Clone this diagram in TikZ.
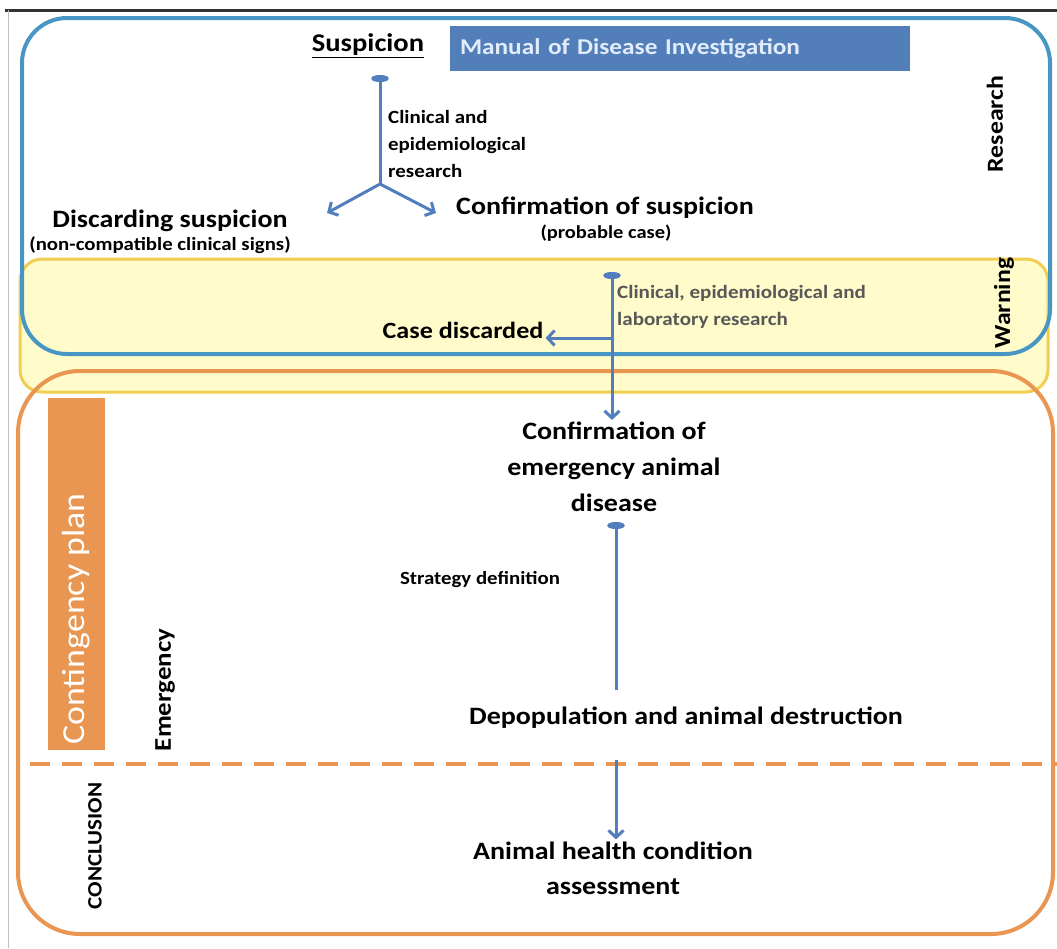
\documentclass[tikz,border=0pt]{standalone}
\usepackage{fontspec}
\setmainfont{Carlito}[FakeStretch=1.12]
\usetikzlibrary{positioning,arrows.meta}

\definecolor{researchblue}{RGB}{72,150,196}
\definecolor{warnfill}{RGB}{255,251,202}
\definecolor{warnline}{RGB}{240,206,80}
\definecolor{planorange}{RGB}{232,150,82}
\definecolor{arrowblue}{RGB}{82,126,190}
\definecolor{manualblue}{RGB}{82,126,186}
\definecolor{manualtext}{RGB}{226,236,250}
\definecolor{notegray}{RGB}{88,88,88}

\tikzset{
  stage/.style={font=\fontsize{25}{36}\selectfont\bfseries, align=center, inner sep=2pt},
  note/.style={font=\fontsize{18.7}{27}\selectfont\bfseries, align=left, inner sep=0pt},
  side/.style={font=\fontsize{23}{26}\selectfont\bfseries, rotate=90, inner sep=0pt},
  flow/.style={draw=arrowblue, line width=3pt, -{Straight Barb[length=7pt,width=15pt]}},
  dotflow/.style={draw=arrowblue, line width=3pt, {Ellipse[length=7pt,width=17pt]}-{Straight Barb[length=7pt,width=15pt]}},
  dotline/.style={draw=arrowblue, line width=3pt, {Ellipse[length=7pt,width=17pt]}-}
}

\begin{document}
\begin{tikzpicture}[x=1pt, y=-1pt]
    \useasboundingbox (0,0) rectangle (1057,948);
    \fill[white] (0,0) rectangle (1057,948);

    % Frame
    \draw[line width=3pt, black!80] (5,10) -- (1057,10);
    \draw[line width=0.8pt, black!25] (8,10) -- (8,948);

    % Phases
    \draw[draw=warnline, fill=warnfill, line width=3pt, rounded corners=22pt] (20,259) rectangle (1048,392);
    \draw[draw=researchblue, line width=4pt, rounded corners=45pt] (22,18) rectangle (1050,354);
    \draw[draw=planorange, line width=4pt, rounded corners=62pt] (18,371) rectangle (1053,934);
    \draw[draw=planorange, line width=4pt, dash pattern=on 20pt off 12pt] (30,764) -- (1057,764);

    % Side labels
    \node[side] (research) at (995,124) {Research};
    \node[side] (warning) at (1004,303) {Warning};
    \node[side, font=\fontsize{24}{27}\selectfont\bfseries] (emergency) at (165,690) {Emergency};
    \node[side, font=\fontsize{20.5}{24}\selectfont\bfseries] (conclusion) at (95,846) {CONCLUSION};
    \node[fill=planorange, minimum width=57pt, minimum height=352pt, inner sep=0pt] (plan) at (76,574) {};
    \node[rotate=90, text=white, inner sep=0pt, font=\fontsize{32}{36}\selectfont] (plantext) at (76,619) {Contingency plan};

    % Research phase
    \node[font=\fontsize{25.5}{30}\selectfont\bfseries] (suspicion) at (368,46) {\underline{Suspicion}};
    \node[fill=manualblue, text=manualtext, text width=440pt, minimum height=45pt, inner sep=10pt,
          font=\fontsize{22.6}{28}\selectfont\bfseries] (manual) at (680,48) {Manual of Disease Investigation};
    \node[note, anchor=north west] (clinical) at (388,110) {Clinical and\\epidemiological\\research};
    \node[stage] (discarding) at (170,221) {Discarding suspicion};
    \node[note, font=\fontsize{18.6}{22}\selectfont\bfseries] (noncomp) at (160,245) {(non-compatible clinical signs)};
    \node[stage] (confirm) at (605,208) {Confirmation of suspicion};
    \node[note, font=\fontsize{18.3}{22}\selectfont\bfseries] (probable) at (606,233) {(probable case)};

    % Warning phase
    \node[note, font=\fontsize{18.8}{27}\selectfont\bfseries, text=notegray, anchor=west] (lab) at (617,307) {Clinical, epidemiological and\\laboratory research};
    \node[stage, font=\fontsize{23.3}{28}\selectfont\bfseries] (casedisc) at (463,330) {Case discarded};

    % Emergency phase
    \node[stage] (emerg) at (614,467) {Confirmation of\\emergency animal\\disease};
    \node[note, font=\fontsize{18.6}{22}\selectfont\bfseries] (strategy) at (480,580) {Strategy definition};
    \node[stage] (depop) at (686,718) {Depopulation and animal destruction};

    % Conclusion phase
    \node[stage, font=\fontsize{25}{35}\selectfont\bfseries] (assess) at (613,868) {Animal health condition\\assessment};

    % Connections
    \coordinate (s0) at (380,75);
    \coordinate (fork) at (380,184);
    \coordinate (d0) at (327,213);
    \coordinate (c0) at (436,213);
    \coordinate (w0) at (612,272);
    \coordinate (w1) at (612,338);
    \coordinate (e0) at (616,522);
    \coordinate (e1) at (616,690);
    \coordinate (k0) at (616,760);

    \draw[dotline] (s0) -- (fork);
    \draw[flow] (fork) -- (d0);
    \draw[flow] (fork) -- (c0);
    \draw[dotflow] (w0) -- (w0 |- emerg.north);
    \draw[flow] (w1) -- (w1 -| casedisc.east);
    \draw[dotline] (e0) -- (e1);
    \draw[flow] (k0) -- (k0 |- assess.north);
\end{tikzpicture}
\end{document}
